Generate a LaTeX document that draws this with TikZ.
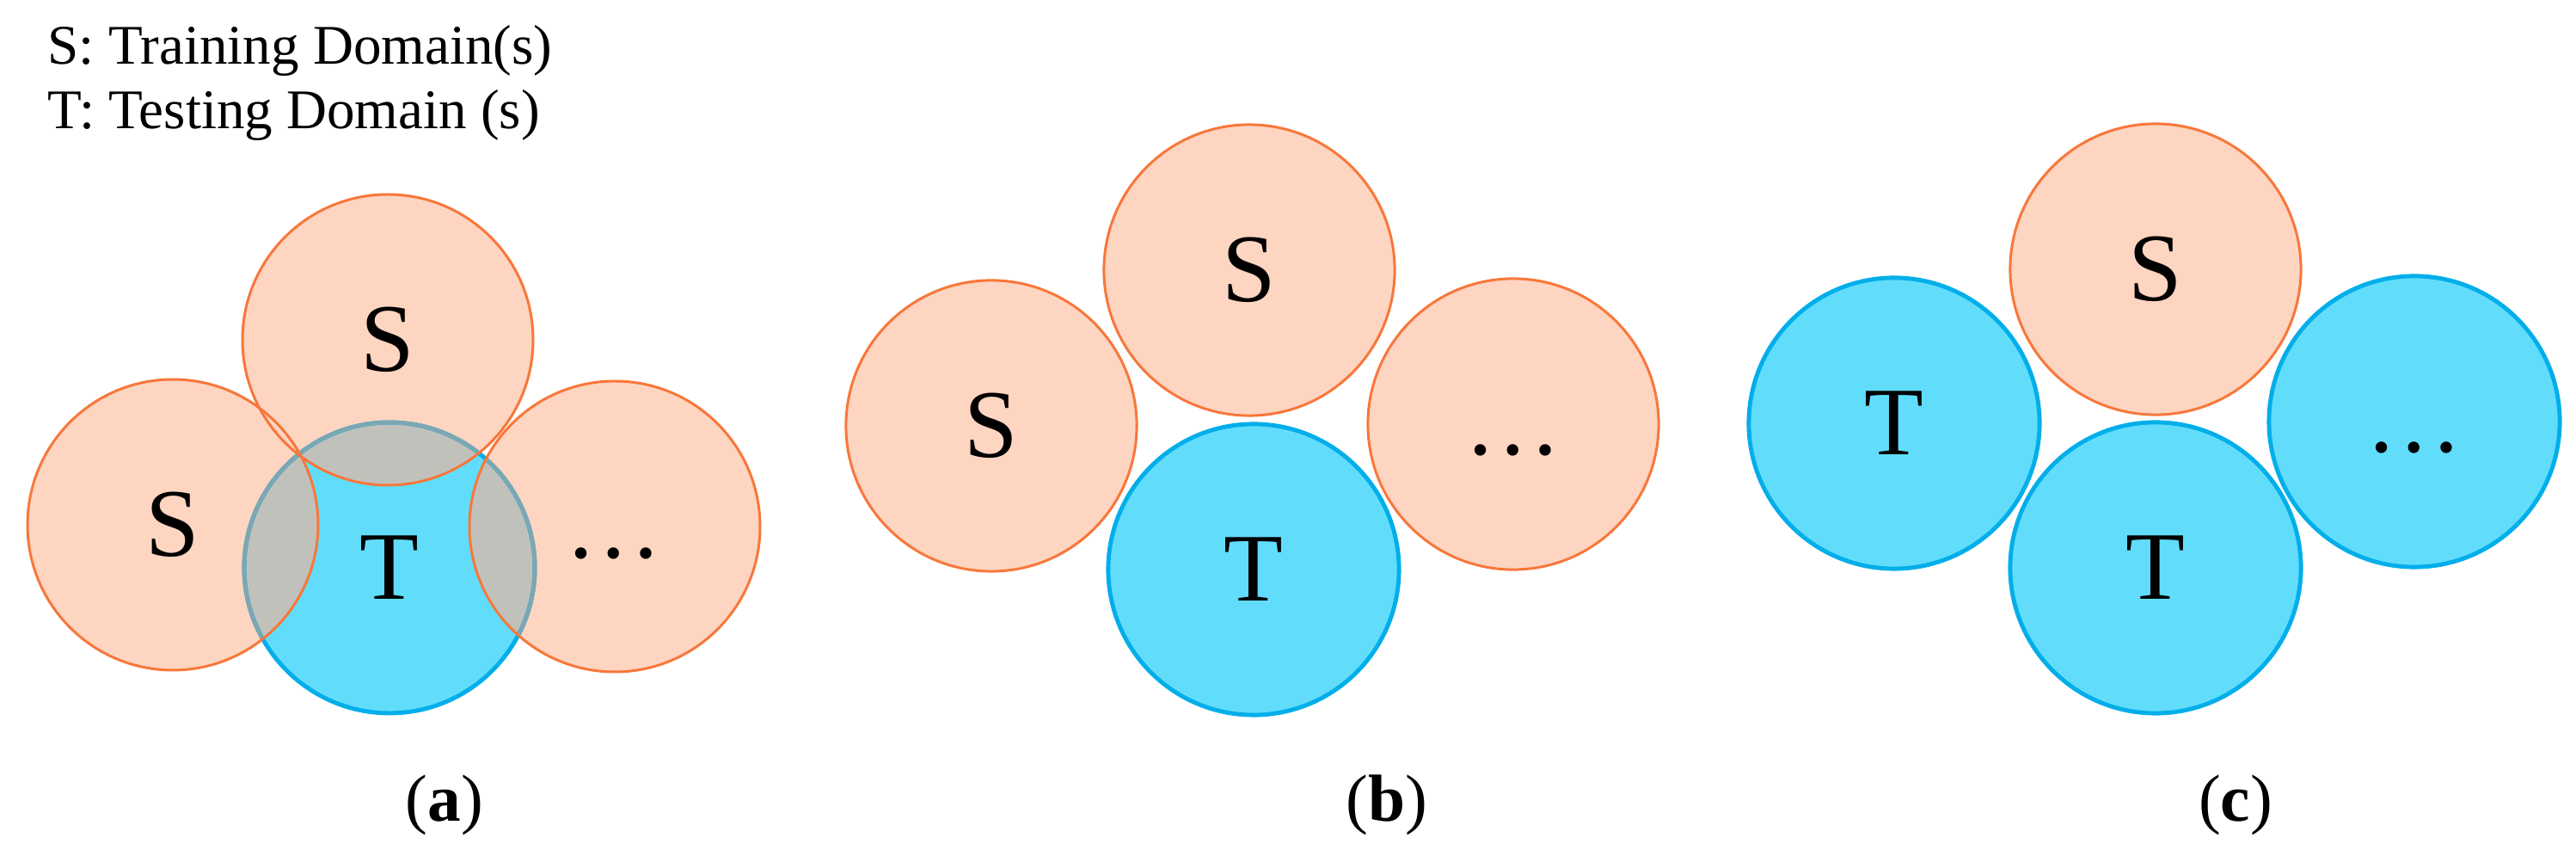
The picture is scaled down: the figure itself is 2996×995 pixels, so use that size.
\documentclass[tikz,border=0pt]{standalone}
\usepackage{fontspec}
\setmainfont{Liberation Serif}
\definecolor{speach}{HTML}{FDD5C1}
\definecolor{sorange}{HTML}{F8773A}
\definecolor{tcyan}{HTML}{61DDFB}
\definecolor{tblue}{HTML}{02AEEA}
\definecolor{ovgray}{HTML}{C1C1BC}
\definecolor{ovedge}{HTML}{7BA7B3}
\begin{document}
\begin{tikzpicture}[x=0.01cm,y=-0.01cm,
  bigfont/.style={font=\fontsize{32}{38}\selectfont},
  lbl/.style={inner sep=0pt, bigfont},
  src/.style={circle, draw=sorange, fill=speach, line width=0.85pt, minimum size=3.38cm, inner sep=0pt, bigfont},
  tgt/.style={circle, draw=tblue, fill=tcyan, line width=1.4pt, minimum size=3.38cm, inner sep=0pt, bigfont},
  captxt/.style={inner sep=0pt, anchor=base, font=\fontsize{22}{26}\selectfont},
  legend/.style={inner sep=0pt, anchor=base west, font=\fontsize{18.5}{22}\selectfont},
  srcedge/.style={draw=sorange, line width=0.85pt},
  tgtedge/.style={draw=tblue, line width=1.4pt}]
\useasboundingbox (0,0) rectangle (2996,995);
\def\R{169}
% legend
\node[legend] (leg1) at (55,75) {S: Training Domain(s)};
\node[legend] (leg2) at (55,150) {T: Testing Domain (s)};
% panel (a)
\coordinate (aS1) at (201,610);
\coordinate (aS2) at (451,395);
\coordinate (aT) at (453,660);
\coordinate (aS3) at (715,612);
\fill[speach] (aS1) circle[radius=\R] (aS2) circle[radius=\R] (aS3) circle[radius=\R];
\fill[tcyan] (aT) circle[radius=\R];
\begin{scope}
  \clip (aT) circle[radius=\R];
  \fill[ovgray] (aS1) circle[radius=\R] (aS2) circle[radius=\R] (aS3) circle[radius=\R];
\end{scope}
\draw[tgtedge] (aT) circle[radius=\R];
\begin{scope}
  \clip (aS1) circle[radius=\R] (aS2) circle[radius=\R] (aS3) circle[radius=\R];
  \draw[tgtedge, draw=ovedge] (aT) circle[radius=\R];
\end{scope}
\draw[srcedge] (aS1) circle[radius=\R] (aS2) circle[radius=\R] (aS3) circle[radius=\R];
\node[lbl] (laS1) at (aS1) {S};
\node[lbl] (laS2) at (aS2) {S};
\node[lbl] (laT) at (aT) {T};
\node[lbl] (laD) at (714,643) {\dots};
\node[captxt] (capa) at (517,955) {(\textbf{a})};
% panel (b)
\node[src] (bS1) at (1153,495) {S};
\node[src] (bS2) at (1453,314) {S};
\node[tgt] (bT) at (1458,662) {T};
\node[src] (bS3) at (1760,493) {};
\node[lbl] (bD) at (1760,523) {\dots};
\node[captxt] (capb) at (1613,955) {(\textbf{b})};
% panel (c)
\node[tgt] (cT1) at (2203,492) {T};
\node[src] (cS) at (2507,313) {S};
\node[tgt] (cT2) at (2507,660) {T};
\node[tgt] (cT3) at (2808,490) {};
\node[lbl] (cD) at (2808,520) {\dots};
\node[captxt] (capc) at (2600,955) {(\textbf{c})};
\end{tikzpicture}
\end{document}
